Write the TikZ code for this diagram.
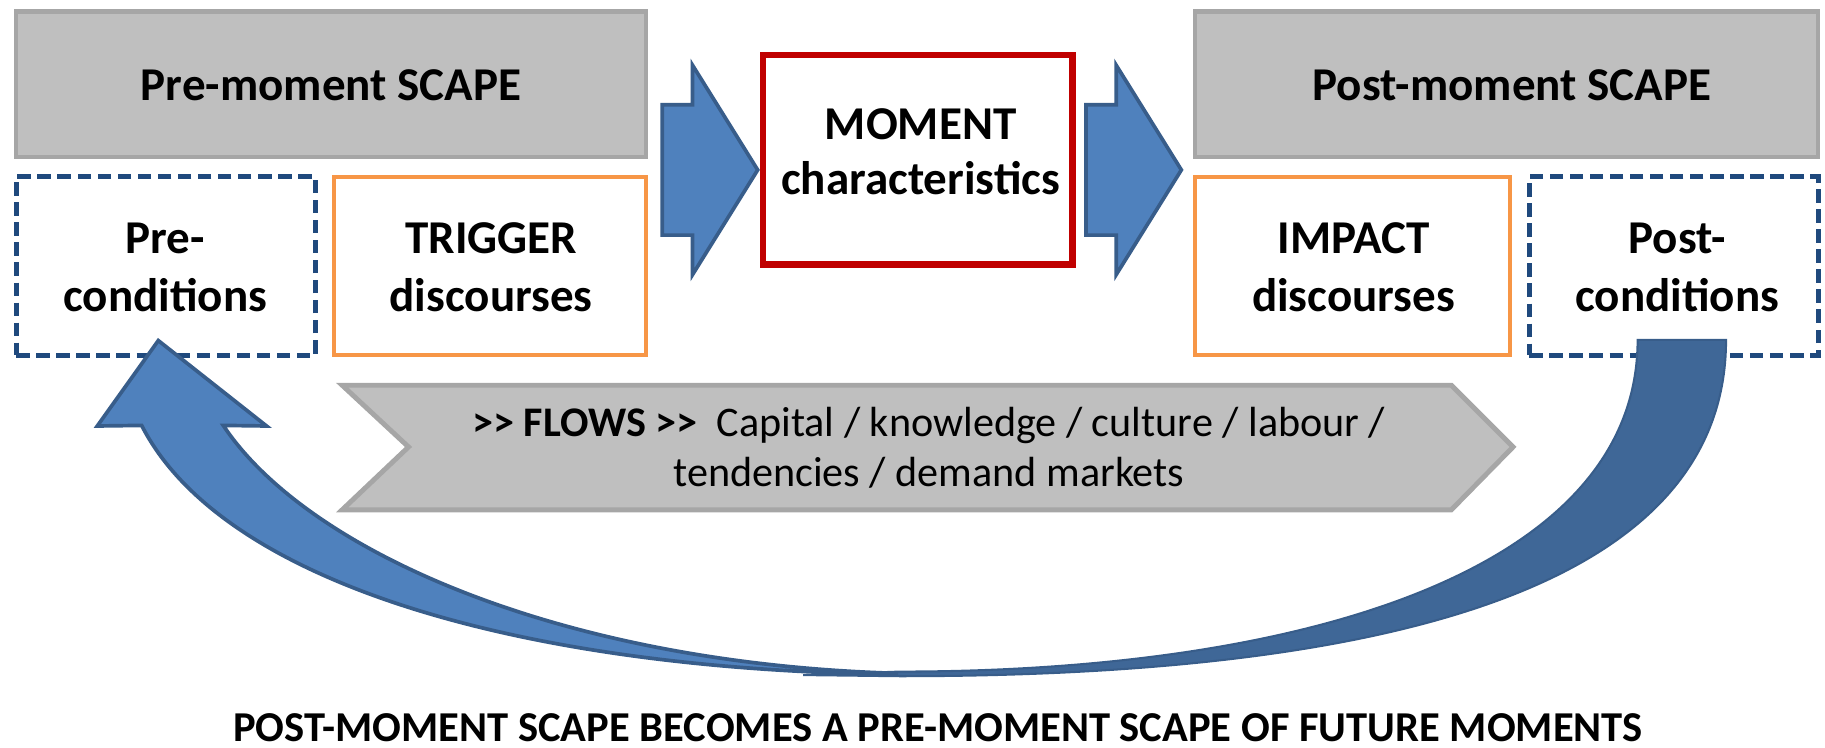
\documentclass[tikz,border=0pt]{standalone}
\usepackage{fontspec}
\setmainfont{Carlito}
\definecolor{graybg}{HTML}{BFBFBF}
\definecolor{grayline}{HTML}{A6A6A6}
\definecolor{orangeline}{HTML}{F79646}
\definecolor{redline}{HTML}{C00000}
\definecolor{dashblue}{HTML}{1F497D}
\definecolor{bluefill}{HTML}{4F81BD}
\definecolor{blueline}{HTML}{385D8A}
\definecolor{bluedark}{HTML}{3F6797}
\begin{document}
\begin{tikzpicture}[x=0.01cm,y=-0.01cm,line join=miter]
\tikzset{
  scapebox/.style={draw=grayline,fill=graybg,line width=1.1pt,inner sep=0pt,minimum height=1.25cm},
  condbox/.style={draw=dashblue,line width=1.2pt,dash pattern=on 3.3pt off 1.6pt,inner sep=0pt,minimum height=1.53cm},
  discbox/.style={draw=orangeline,line width=1pt,inner sep=0pt,minimum height=1.535cm},
  momentbox/.style={draw=redline,line width=1.6pt,inner sep=0pt},
  blockarrow/.style={fill=bluefill,draw=blueline,line width=0.9pt},
  bigtext/.style={anchor=base,inner sep=0pt,font=\fontsize{11.5}{14.2}\selectfont\bfseries},
  flowtext/.style={anchor=base,inner sep=0pt,font=\fontsize{10.3}{12.2}\selectfont},
  foottext/.style={anchor=base,inner sep=0pt,font=\fontsize{10.4}{12.5}\selectfont\bfseries},
}
\useasboundingbox (0,0) rectangle (1568,642);
% boxes
\node[scapebox,minimum width=5.41cm] (pre) at (284.5,72.5) {};
\node[scapebox,minimum width=5.35cm] (post) at (1294.5,72.5) {};
\node[condbox,minimum width=2.57cm] (precond) at (142.5,228.5) {};
\node[discbox,minimum width=2.685cm] (trigger) at (421,228.5) {};
\node[discbox,minimum width=2.705cm] (impact) at (1162,228.5) {};
\node[condbox,minimum width=2.48cm] (postcond) at (1438,228.5) {};
\node[momentbox,minimum width=2.654cm,minimum height=1.799cm] (moment) at (788.5,137.3) {};
% block arrows
\draw[blockarrow] (569,90) -- (595,90) -- (595,56) -- (651,146) -- (595,236) -- (595,202) -- (569,202) -- cycle;
\draw[blockarrow] (933,90) -- (959,90) -- (959,56) -- (1015,146) -- (959,236) -- (959,202) -- (933,202) -- cycle;
% flows chevron
\draw[draw=grayline,fill=graybg,line width=1.2pt] (294,331) -- (1247,331) -- (1300,384) -- (1247,438) -- (294,438) -- (351,384) -- cycle;
% curved return arrow: back band
\draw[fill=bluedark,draw=blueline,line width=0.5pt] (1483,292) .. controls (1483,510) and (1180,581) .. (773,581) -- (690,580) -- (773,577) .. controls (1120,577) and (1407,490) .. (1407,292) -- cycle;
% front band with head
\draw[blockarrow] (121.7,365.5) -- (83.6,366) -- (136,292.6) -- (229,366) -- (191.8,365.5)
  .. controls (263.3,472.9) and (480,570) .. (770,578.5) -- (770,579.5)
  .. controls (440,575) and (189.5,498.5) .. (121.7,365.5) -- cycle;
% texts
\node[bigtext] (pretxt) at (284.5,86) {Pre-moment SCAPE};
\node[bigtext] (posttxt) at (1299,86) {Post-moment SCAPE};
\node[bigtext] (precondtxt) at (142,217.7) {\begin{tabular}[t]{@{}c@{}}Pre-\\conditions\end{tabular}};
\node[bigtext] (triggertxt) at (422,217.7) {\begin{tabular}[t]{@{}c@{}}TRIGGER\\discourses\end{tabular}};
\node[bigtext] (impacttxt) at (1163,217.7) {\begin{tabular}[t]{@{}c@{}}IMPACT\\discourses\end{tabular}};
\node[bigtext] (postcondtxt) at (1441,217.7) {\begin{tabular}[t]{@{}c@{}}Post-\\conditions\end{tabular}};
\node[bigtext,font=\fontsize{11.5}{13.6}\selectfont\bfseries] (momenttxt) at (791,119.7) {\begin{tabular}[t]{@{}c@{}}MOMENT\\characteristics\end{tabular}};
\node[flowtext] (flowtxt) at (798,375) {\begin{tabular}[t]{@{}c@{}}\textbf{>{}> FLOWS >{}>}\ \ Capital / knowledge / culture / labour /\\tendencies / demand markets\end{tabular}};
\node[foottext] (foot) at (806,637.5) {POST-MOMENT SCAPE BECOMES A PRE-MOMENT SCAPE OF FUTURE MOMENTS};
\end{tikzpicture}
\end{document}
